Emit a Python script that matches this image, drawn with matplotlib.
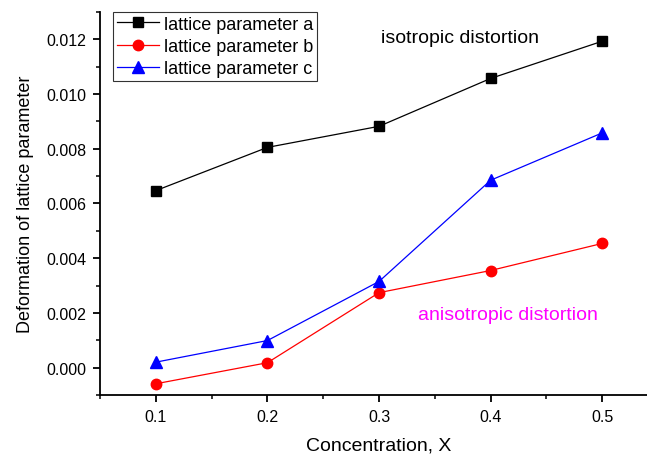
import matplotlib.pyplot as plt
from matplotlib.ticker import MultipleLocator

conc = [0.1, 0.2, 0.3, 0.4, 0.5]
param_a = [0.00647, 0.00805, 0.00882, 0.01057, 0.01193]
param_b = [-0.00059, 0.00018, 0.00274, 0.00355, 0.00454]
param_c = [0.00020, 0.00099, 0.00315, 0.00685, 0.00858]

plt.rcParams['font.family'] = ['Liberation Sans', 'DejaVu Sans']

fig = plt.figure(figsize=(6.47, 4.56), dpi=100)
ax = fig.add_axes([0.1546, 0.1316, 0.8625, 0.84])

ax.plot(conc, param_a, color='black', lw=0.9, marker='s', ms=7, label='lattice parameter a')
ax.plot(conc, param_b, color='red', lw=0.9, marker='o', ms=7.5, label='lattice parameter b')
ax.plot(conc, param_c, color='blue', lw=0.9, marker='^', ms=8.5, label='lattice parameter c')

ax.set_xlim(0.05, 0.55)
ax.set_ylim(-0.001, 0.013)
ax.xaxis.set_major_locator(MultipleLocator(0.1))
ax.xaxis.set_minor_locator(MultipleLocator(0.05))
ax.yaxis.set_major_locator(MultipleLocator(0.002))
ax.yaxis.set_minor_locator(MultipleLocator(0.001))
ax.xaxis.set_major_formatter(plt.FuncFormatter(lambda v, p: '%.1f' % v))
ax.yaxis.set_major_formatter(plt.FuncFormatter(lambda v, p: '%.3f' % v))

for s in ['top', 'right']:
    ax.spines[s].set_visible(False)
ax.spines['left'].set_linewidth(1.3)
ax.spines['bottom'].set_linewidth(1.3)
ax.tick_params(which='major', direction='out', length=5, width=1.3, labelsize=11.5, pad=5)
ax.tick_params(which='minor', direction='out', length=3, width=1.1)

ax.set_xlabel('Concentration, X', fontsize=14, labelpad=9)
ax.set_ylabel('Deformation of lattice parameter', fontsize=13, labelpad=9)

ax.text(0.3726, 0.01207, 'isotropic distortion', fontsize=14, ha='center', va='center')
ax.text(0.4157, 0.00194, 'anisotropic distortion', fontsize=14, ha='center', va='center', color='magenta')

leg = ax.legend(loc='upper left', bbox_to_anchor=(0.024, 1.0), fontsize=13, frameon=True, fancybox=False,
                edgecolor='black', borderpad=0.2, labelspacing=0.3, handlelength=2.3, handletextpad=0.3,
                borderaxespad=0.0)
leg.get_frame().set_linewidth(0.8)

fig.savefig('out.png', dpi=100)
